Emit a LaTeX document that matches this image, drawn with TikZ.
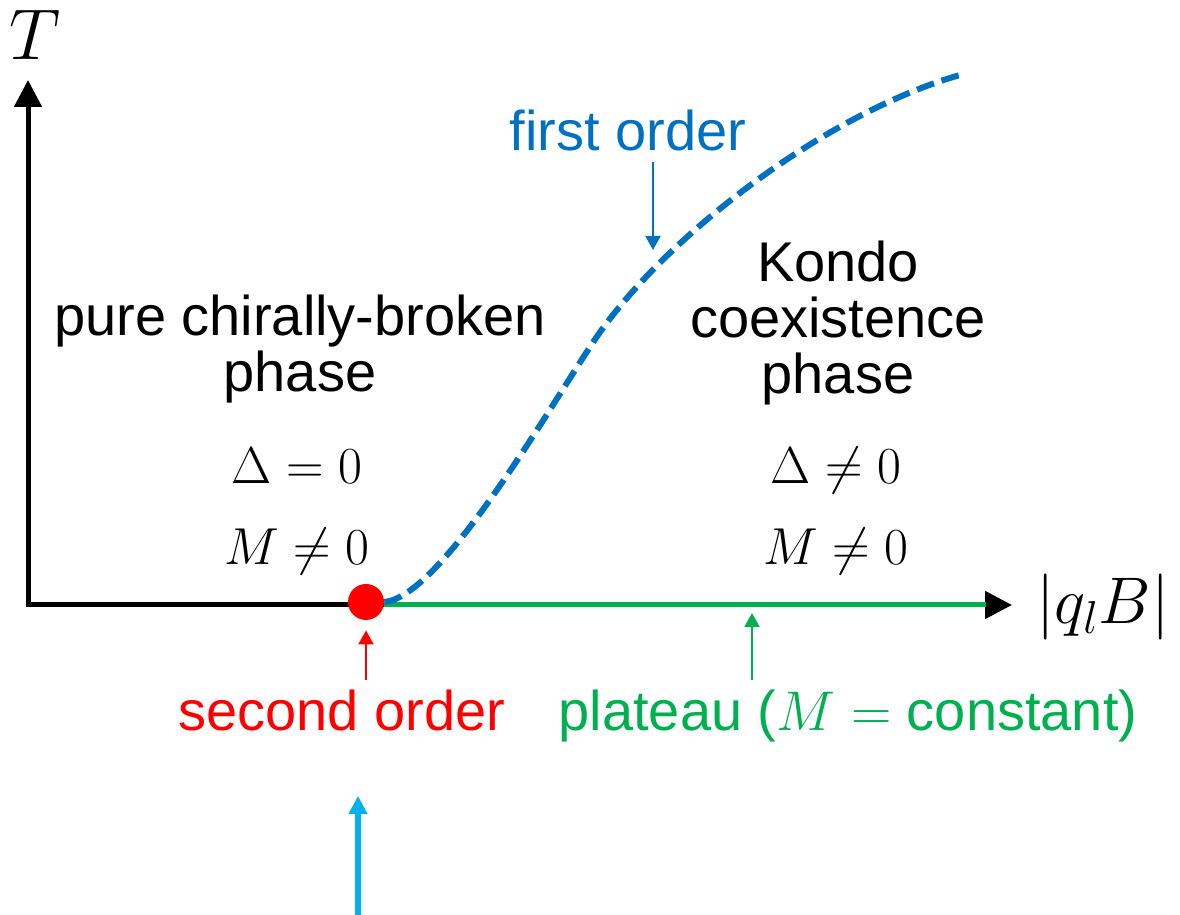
\RequirePackage{fix-cm}
\documentclass[tikz,border=0pt]{standalone}
\usepackage{amsmath}
\usepackage{fontspec}
\setmainfont{Liberation Sans}
\usepackage{xcolor}
\usepackage{tikz}
\usetikzlibrary{arrows.meta,positioning,calc}

\definecolor{ordblue}{RGB}{0,112,192}
\definecolor{ordred}{RGB}{255,0,0}
\definecolor{ordgreen}{RGB}{0,176,80}
\definecolor{ordcyan}{RGB}{0,176,240}

\begin{document}
\begin{tikzpicture}[x=0.5pt, y=0.5pt,
  every node/.style={font=\fontsize{28}{28}\selectfont, inner sep=0pt},
  mathlab/.style={font=\fontsize{26}{26}\selectfont, anchor=base},
  axisline/.style={line width=2.5pt, line join=miter,
    {Triangle[length=13.5pt,width=13.5pt]}-{Triangle[length=13.5pt,width=13.5pt]}},
  thinarr/.style={line width=1pt, -{Triangle[length=7pt,width=7.5pt]}}]
\useasboundingbox (0,0) rectangle (1180,915);

% axes
\coordinate (O) at (28,310);
\coordinate (ytip) at (28,835);
\coordinate (xtip) at (1012,310);
\coordinate (gend) at (986,310);
\draw[axisline] (ytip) -- (O) -- (xtip);
\node[font=\fontsize{36}{36}\selectfont] (Tlab) at (35,880) {$T$};
\node[font=\fontsize{33}{33}\selectfont] (Blab) at (1103,308) {$|q_l B|$};

% critical point and phase lines
\node[circle, fill=ordred, minimum size=18pt] (crit) at (366,313) {};
\draw[line width=2.5pt, ordgreen] (crit.east |- O) -- (gend);
\coordinate (infl) at (590,568);
\coordinate (fend) at (960,840);
\draw[ordblue, line width=3pt, dash pattern=on 9pt off 4pt]
  (crit.east) .. controls (440,318) and (545,500) .. (infl)
  .. controls (655,670) and (820,800) .. (fend);

% phase names
\node[align=center] (purelab) at (300,566) {pure chirally-broken\\phase};
\node[align=center] (kondolab) at (838,592) {Kondo\\coexistence\\phase};
\foreach \x/\rel/\nm in {297/=/pure, 836/\neq/kondo} {
  \node[mathlab] (delta\nm) at (\x,431) {$\Delta \rel 0$};
  \node[mathlab] (mass\nm) at (\x,350) {$M \neq 0$};
}

% order labels
\node[ordblue] (firstord) at (628,785) {first order};
\coordinate (fotail) at (653,753);
\coordinate (fotip) at (653,665);
\draw[thinarr, ordblue] (fotail) -- (fotip);

\node[ordred, anchor=base] (secondord) at (342,184) {second order};
\draw[thinarr, ordred] ([yshift=5pt]secondord.north -| crit) -- ([yshift=-5pt]crit.south);

\node[ordgreen, anchor=base] (plateau) at (848,184) {plateau ($M =$ constant)};
\coordinate (gtip) at (752,302);
\draw[thinarr, ordgreen] ([yshift=5pt]plateau.north -| gtip) -- (gtip);

% marker below
\coordinate (cybot) at (358,0);
\coordinate (cytip) at (358,119);
\draw[line width=3pt, ordcyan, -{Triangle[length=9pt,width=9pt]}] (cybot) -- (cytip);
\end{tikzpicture}
\end{document}
